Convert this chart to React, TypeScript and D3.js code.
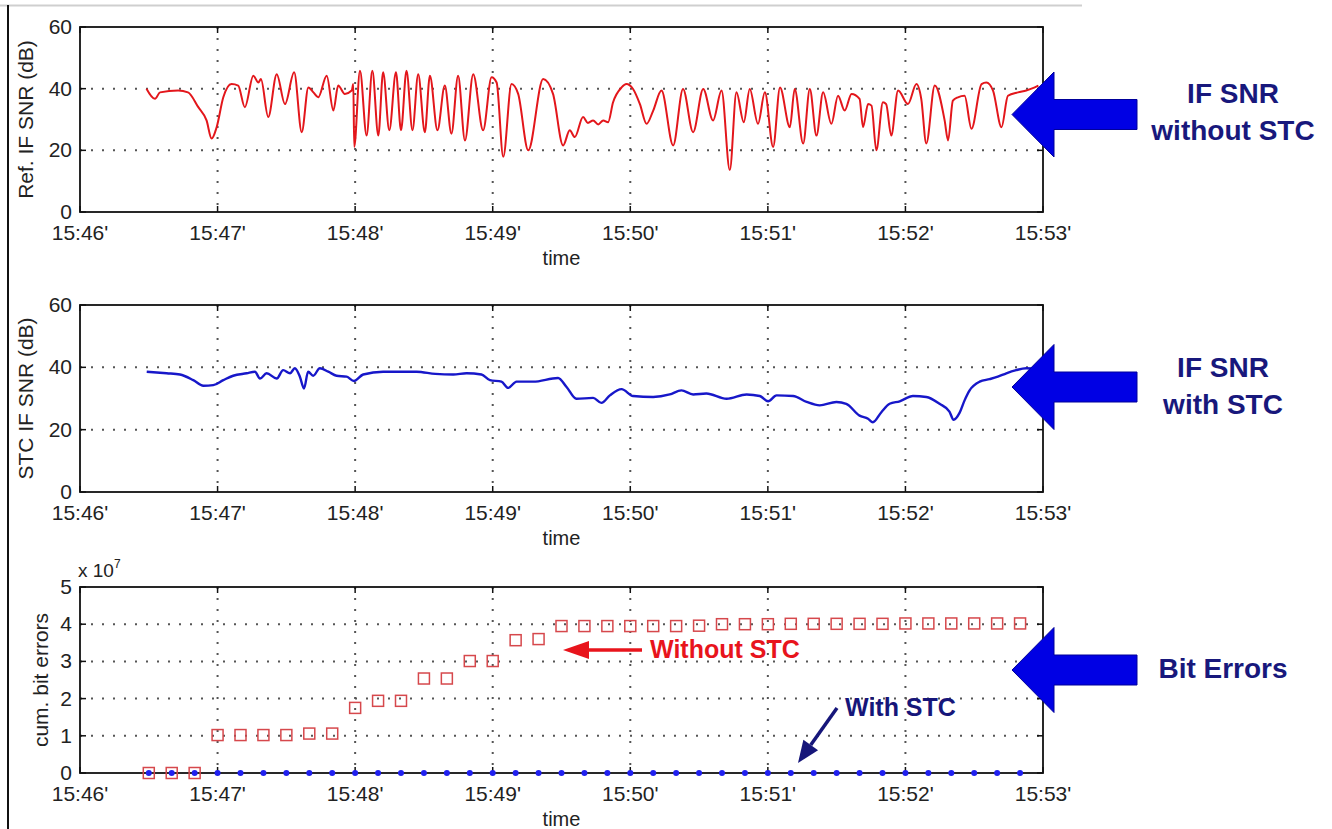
import * as d3 from "d3"
import { useEffect, useRef } from "react"

// x axis, minutes after 15:46
const timeTicks = [0, 1, 2, 3, 4, 5, 6, 7]
const timeTickLabels = ["15:46'", "15:47'", "15:48'", "15:49'", "15:50'", "15:51'", "15:52'", "15:53'"]

const snrTicks = [0, 20, 40, 60]
const bitErrTicks = [0, 1, 2, 3, 4, 5]

// Ref. IF SNR without STC: [seconds after 15:46:00, dB] (peaks / dips)
const refSnr: [number, number][] = [
  [29, 40], [32.7, 36.7], [34.9, 38.8], [42.8, 39.4], [47.1, 38.8], [51.6, 34], [55.2, 29.7],
  [57.4, 23.8], [59.6, 27.5], [62.5, 37.2], [66.1, 41.5], [69, 41], [71.9, 34], [75.6, 44.2],
  [77.8, 42], [78.9, 43.1], [82.1, 30.8], [85.8, 44.7], [89.4, 35], [93.4, 45.3], [96.7, 25.9],
  [99.6, 40.4], [101.8, 38.8], [103.9, 37.2], [107.6, 44.2], [110.5, 32.9], [112.6, 41],
  [115.5, 38.3], [118.5, 39.4], [119.2, 41.5], [119.6, 21.1], [122.1, 45.8], [125, 24.8],
  [127.5, 45.8], [130.1, 24.8], [132.2, 45.3], [134.9, 26.5], [137.8, 45.3], [140, 26.5],
  [142.4, 45.8], [145, 26.5], [147.5, 44.7], [150.4, 25.9], [152.6, 44.2], [155.9, 26.5],
  [159.1, 41], [162, 25.4], [164.9, 44.2], [167.9, 23.2], [171.5, 44.7], [175.8, 26.5],
  [179.5, 43.7], [181.7, 42], [184.6, 17.9], [188.2, 41.5], [191.1, 38.3], [195.5, 20],
  [202, 43.1], [206.3, 38.3], [210.7, 21.6], [213.6, 26.5], [215.8, 24.3], [219.4, 30.8],
  [221.5, 28.9], [223.8, 29.7], [226, 28.4], [228.2, 29.7], [230.3, 29.1], [232.5, 35.6],
  [236.2, 40.4], [238.3, 41.5], [241.2, 39.9], [244.2, 35], [247.1, 28.6], [250, 32.9],
  [253.6, 39.4], [258.7, 21.6], [263, 39.9], [267.4, 25.9], [271.8, 39.9], [276.1, 29.7],
  [279.8, 39.4], [283.4, 13.6], [286.3, 38.8], [289.5, 29.1], [292.1, 39.9], [295.7, 28.6],
  [298.7, 38.8], [302.3, 21.1], [305.3, 40.4], [309.6, 27.5], [311.7, 39.9], [315.4, 22.2],
  [318.3, 39.9], [321.2, 24.8], [324.1, 38.8], [327.7, 28.6], [330.6, 37.7], [333.5, 32.9],
  [336.5, 38.3], [340, 36.7], [341.5, 27.5], [343.7, 35], [345.2, 34.5], [347.3, 20],
  [350.2, 35.6], [351.6, 35], [353.8, 24.8], [356.8, 39.4], [361.1, 35], [364.8, 41.5],
  [366.9, 36.7], [369.1, 22.2], [372.8, 41], [377.1, 29.7], [378.6, 23.2], [380.7, 36.1],
  [382.9, 37.2], [385.8, 37.7], [388.8, 27], [393.2, 41.5], [395.3, 42], [398.2, 39.4],
  [401.9, 27.5], [404.7, 37.7], [409.1, 38.8], [412.7, 39.4], [416.4, 40.4], [418, 41]
]

// STC IF SNR: [seconds after 15:46:00, dB]
const stcSnr: [number, number][] = [
  [29.1, 38.6], [37.8, 38.1], [43.6, 37.7], [49.4, 35.9], [53.8, 34.1], [58.1, 34.3],
  [62.5, 35.9], [66.8, 37.3], [72.7, 38.1], [76.3, 38.6], [78.5, 36.4], [81.4, 38.1],
  [85.8, 36.4], [88.6, 39.1], [91.6, 38.1], [93.7, 39.7], [95.9, 37], [97.7, 33.2],
  [99.5, 38.6], [101.7, 37.3], [104.6, 39.7], [108.3, 38.6], [111.9, 37.3], [116.3, 37],
  [119.5, 35.6], [123.5, 37.7], [132.2, 38.6], [146.8, 38.6], [155, 37.9], [162.8, 37.7],
  [168.6, 38.1], [175.1, 37.7], [178.8, 35.9], [183.8, 35.4], [186.7, 33.4], [190.4, 35.4],
  [197.6, 35.4], [208.5, 36.6], [212.2, 33.7], [216.5, 29.9], [223.8, 30.2], [227.4, 28.6],
  [231.1, 31], [236.2, 33], [241.2, 30.8], [250, 30.5], [257.2, 31.3], [262.3, 32.6],
  [267.4, 31.3], [273.2, 31.6], [282, 29.9], [290.7, 31.3], [296.5, 30.8], [300.1, 29.1],
  [303.8, 31], [311, 30.8], [316.9, 28.9], [322.6, 27.8], [329.9, 28.9], [334.2, 28.3],
  [340, 24.5], [343.7, 23.5], [345.8, 22.4], [349.5, 25.6], [353.1, 28.3], [357.5, 29.1],
  [363.3, 30.8], [369.1, 30.5], [374.9, 28.3], [379.2, 25.8], [381, 23.2], [383.6, 25.4],
  [385.8, 29.4], [388, 32.6], [392.4, 35.4], [396.7, 36.2], [400.3, 37], [404, 38.1],
  [408.3, 39.1], [412.7, 39.7], [418, 39.5]
]

// cumulative bit errors (x 10^7), sampled every 10 s
const bitErrTimes = [
  30, 40, 50, 60, 70, 80, 90, 100, 110, 120, 130, 140, 150, 160, 170, 180, 190, 200, 210, 220,
  230, 240, 250, 260, 270, 280, 290, 300, 310, 320, 330, 340, 350, 360, 370, 380, 390, 400, 410
]
const bitErrWithoutStc = [
  0, 0, 0, 1.02, 1.02, 1.02, 1.02, 1.06, 1.06, 1.75, 1.94, 1.94, 2.54, 2.54, 3.01, 3.01,
  3.57, 3.6, 3.95, 3.95, 3.95, 3.95, 3.95, 3.95, 3.96, 4.0, 4.0, 4.0, 4.01, 4.01, 4.01, 4.01,
  4.01, 4.02, 4.02, 4.02, 4.02, 4.02, 4.02
]
const bitErrWithStc = [
  0, 0, 0, 0, 0, 0, 0, 0, 0, 0, 0, 0, 0, 0, 0, 0, 0, 0, 0, 0,
  0, 0, 0, 0, 0, 0, 0, 0, 0, 0, 0, 0, 0, 0, 0, 0, 0, 0, 0
]

const App = () => {
  const svgRef = useRef<SVGSVGElement | null>(null)

  useEffect(() => {
    if (!svgRef.current) return
    const svg = d3.select(svgRef.current)
    svg.selectAll("*").remove()

    const font = "'Liberation Sans', Arial, Helvetica, sans-serif"
    const left = 80
    const right = 1043
    const x = d3.scaleLinear().domain([0, 420]).range([left, right])

    // page frame
    svg.append("line").attr("x1", 0).attr("x2", 1082).attr("y1", 5.5).attr("y2", 5.5)
      .attr("stroke", "#cfcfcf").attr("stroke-width", 2)
    svg.append("line").attr("x1", 8).attr("x2", 8).attr("y1", 5).attr("y2", 829)
      .attr("stroke", "#111").attr("stroke-width", 2)

    const drawPanel = (
      top: number, bottom: number, ticks: number[], yLabel: string, labelX: number
    ) => {
      const y = d3.scaleLinear().domain([0, ticks[ticks.length - 1]]).range([bottom, top])
      const g = svg.append("g")

      // dotted grid
      g.selectAll(".vgrid").data(timeTicks.slice(1, -1)).enter().append("line")
        .attr("x1", d => x(d * 60)).attr("x2", d => x(d * 60))
        .attr("y1", top).attr("y2", bottom)
        .attr("stroke", "#555").attr("stroke-width", 2).attr("stroke-dasharray", "2,9")
      g.selectAll(".hgrid").data(ticks.slice(1, -1)).enter().append("line")
        .attr("x1", left).attr("x2", right)
        .attr("y1", d => y(d)).attr("y2", d => y(d))
        .attr("stroke", "#555").attr("stroke-width", 2).attr("stroke-dasharray", "2,9")

      // box
      g.append("rect").attr("x", left).attr("y", top)
        .attr("width", right - left).attr("height", bottom - top)
        .attr("fill", "none").attr("stroke", "#111").attr("stroke-width", 1.8)

      // inward ticks
      timeTicks.forEach(t => {
        g.append("line").attr("x1", x(t * 60)).attr("x2", x(t * 60))
          .attr("y1", bottom).attr("y2", bottom - 6).attr("stroke", "#111").attr("stroke-width", 1.5)
        g.append("line").attr("x1", x(t * 60)).attr("x2", x(t * 60))
          .attr("y1", top).attr("y2", top + 6).attr("stroke", "#111").attr("stroke-width", 1.5)
      })
      ticks.forEach(v => {
        g.append("line").attr("x1", left).attr("x2", left + 6)
          .attr("y1", y(v)).attr("y2", y(v)).attr("stroke", "#111").attr("stroke-width", 1.5)
        g.append("line").attr("x1", right).attr("x2", right - 6)
          .attr("y1", y(v)).attr("y2", y(v)).attr("stroke", "#111").attr("stroke-width", 1.5)
      })

      // tick labels
      g.selectAll(".xlab").data(timeTicks).enter().append("text")
        .attr("x", d => x(d * 60)).attr("y", bottom + 28)
        .attr("text-anchor", "middle").style("font-family", font).style("font-size", "21px")
        .attr("fill", "#222").text((d, i) => timeTickLabels[i])
      g.selectAll(".ylab").data(ticks).enter().append("text")
        .attr("x", left - 8).attr("y", d => y(d) + 7)
        .attr("text-anchor", "end").style("font-family", font).style("font-size", "21px")
        .attr("fill", "#222").text(d => String(d))

      g.append("text").attr("x", (left + right) / 2).attr("y", bottom + 53)
        .attr("text-anchor", "middle").style("font-family", font).style("font-size", "20px")
        .attr("fill", "#222").text("time")

      g.append("text")
        .attr("transform", `translate(${labelX},${(top + bottom) / 2}) rotate(-90)`)
        .attr("text-anchor", "middle").style("font-family", font).style("font-size", "21px")
        .attr("fill", "#222").text(yLabel)

      return y
    }

    const line = (y: d3.ScaleLinear<number, number>) =>
      d3.line<[number, number]>().x(d => x(d[0])).y(d => y(d[1])).curve(d3.curveMonotoneX)

    // top: reference SNR
    const y1 = drawPanel(27, 212, snrTicks, "Ref. IF SNR (dB)", 33)
    svg.append("path").datum(refSnr).attr("d", line(y1))
      .attr("fill", "none").attr("stroke", "#e3161b").attr("stroke-width", 2)
      .attr("stroke-linejoin", "round")

    // middle: STC SNR
    const y2 = drawPanel(305, 492, snrTicks, "STC IF SNR (dB)", 33)
    svg.append("path").datum(stcSnr).attr("d", line(y2))
      .attr("fill", "none").attr("stroke", "#1717c9").attr("stroke-width", 2.4)
      .attr("stroke-linejoin", "round")

    // bottom: cumulative bit errors
    const y3 = drawPanel(587, 773, bitErrTicks, "cum. bit errors", 48)
    svg.append("text").attr("x", 78).attr("y", 577)
      .style("font-family", font).style("font-size", "19px").attr("fill", "#222")
      .text("x 10")
      .append("tspan").attr("dy", -9).style("font-size", "12px").text("7")

    svg.selectAll(".sq").data(bitErrTimes).enter().append("rect")
      .attr("x", (d, i) => x(d) - 5.5).attr("y", (d, i) => y3(bitErrWithoutStc[i]) - 5.5)
      .attr("width", 11).attr("height", 11)
      .attr("fill", "none").attr("stroke", "#d6484c").attr("stroke-width", 1.5)
    svg.selectAll(".dot").data(bitErrTimes).enter().append("circle")
      .attr("cx", d => x(d)).attr("cy", (d, i) => y3(bitErrWithStc[i]))
      .attr("r", 3).attr("fill", "#2020f0")

    // "Without STC" annotation
    svg.append("line").attr("x1", 642).attr("x2", 585).attr("y1", 650).attr("y2", 650)
      .attr("stroke", "#e8141c").attr("stroke-width", 3.5)
    svg.append("polygon").attr("points", "563,650 589,641 589,659").attr("fill", "#e8141c")
    svg.append("text").attr("x", 650).attr("y", 658)
      .style("font-family", font).style("font-size", "25px").style("font-weight", "bold")
      .attr("fill", "#e8141c").text("Without STC")

    // "With STC" annotation
    const tip = [798, 763]
    const tail = [837, 708]
    const len = Math.hypot(tail[0] - tip[0], tail[1] - tip[1])
    const ux = (tail[0] - tip[0]) / len
    const uy = (tail[1] - tip[1]) / len
    const bx = tip[0] + ux * 22
    const by = tip[1] + uy * 22
    svg.append("line").attr("x1", tail[0]).attr("y1", tail[1]).attr("x2", bx).attr("y2", by)
      .attr("stroke", "#16167a").attr("stroke-width", 3.5)
    svg.append("polygon")
      .attr("points", `${tip[0]},${tip[1]} ${bx - uy * 9},${by + ux * 9} ${bx + uy * 9},${by - ux * 9}`)
      .attr("fill", "#16167a")
    svg.append("text").attr("x", 845).attr("y", 716)
      .style("font-family", font).style("font-size", "25px").style("font-weight", "bold")
      .attr("fill", "#16167a").text("With STC")

    // big blue arrows with captions
    const bigArrow = (cy: number) =>
      [[1012, cy], [1054, cy - 42.5], [1054, cy - 15], [1137, cy - 15], [1137, cy + 15],
        [1054, cy + 15], [1054, cy + 42.5]].map(p => p.join(",")).join(" ")

    const captions = [
      { cy: 114.5, cx: 1233, lines: ["IF SNR", "without STC"], base: [103, 140] },
      { cy: 387, cx: 1223, lines: ["IF SNR", "with STC"], base: [377, 414] },
      { cy: 670, cx: 1223, lines: ["Bit Errors"], base: [678] }
    ]
    captions.forEach(c => {
      svg.append("polygon").attr("points", bigArrow(c.cy))
        .attr("fill", "#0000e4").attr("stroke", "#00009a").attr("stroke-width", 1)
      c.lines.forEach((t, i) => {
        svg.append("text").attr("x", c.cx).attr("y", c.base[i])
          .attr("text-anchor", "middle")
          .style("font-family", font).style("font-size", "28px").style("font-weight", "bold")
          .attr("fill", "#18187c").text(t)
      })
    })
  }, [])

  return (
    <svg
      ref={svgRef}
      width={1332}
      height={829}
      style={{ position: "absolute", left: 0, top: 0, background: "#fff" }}
    />
  )
}

export default App
